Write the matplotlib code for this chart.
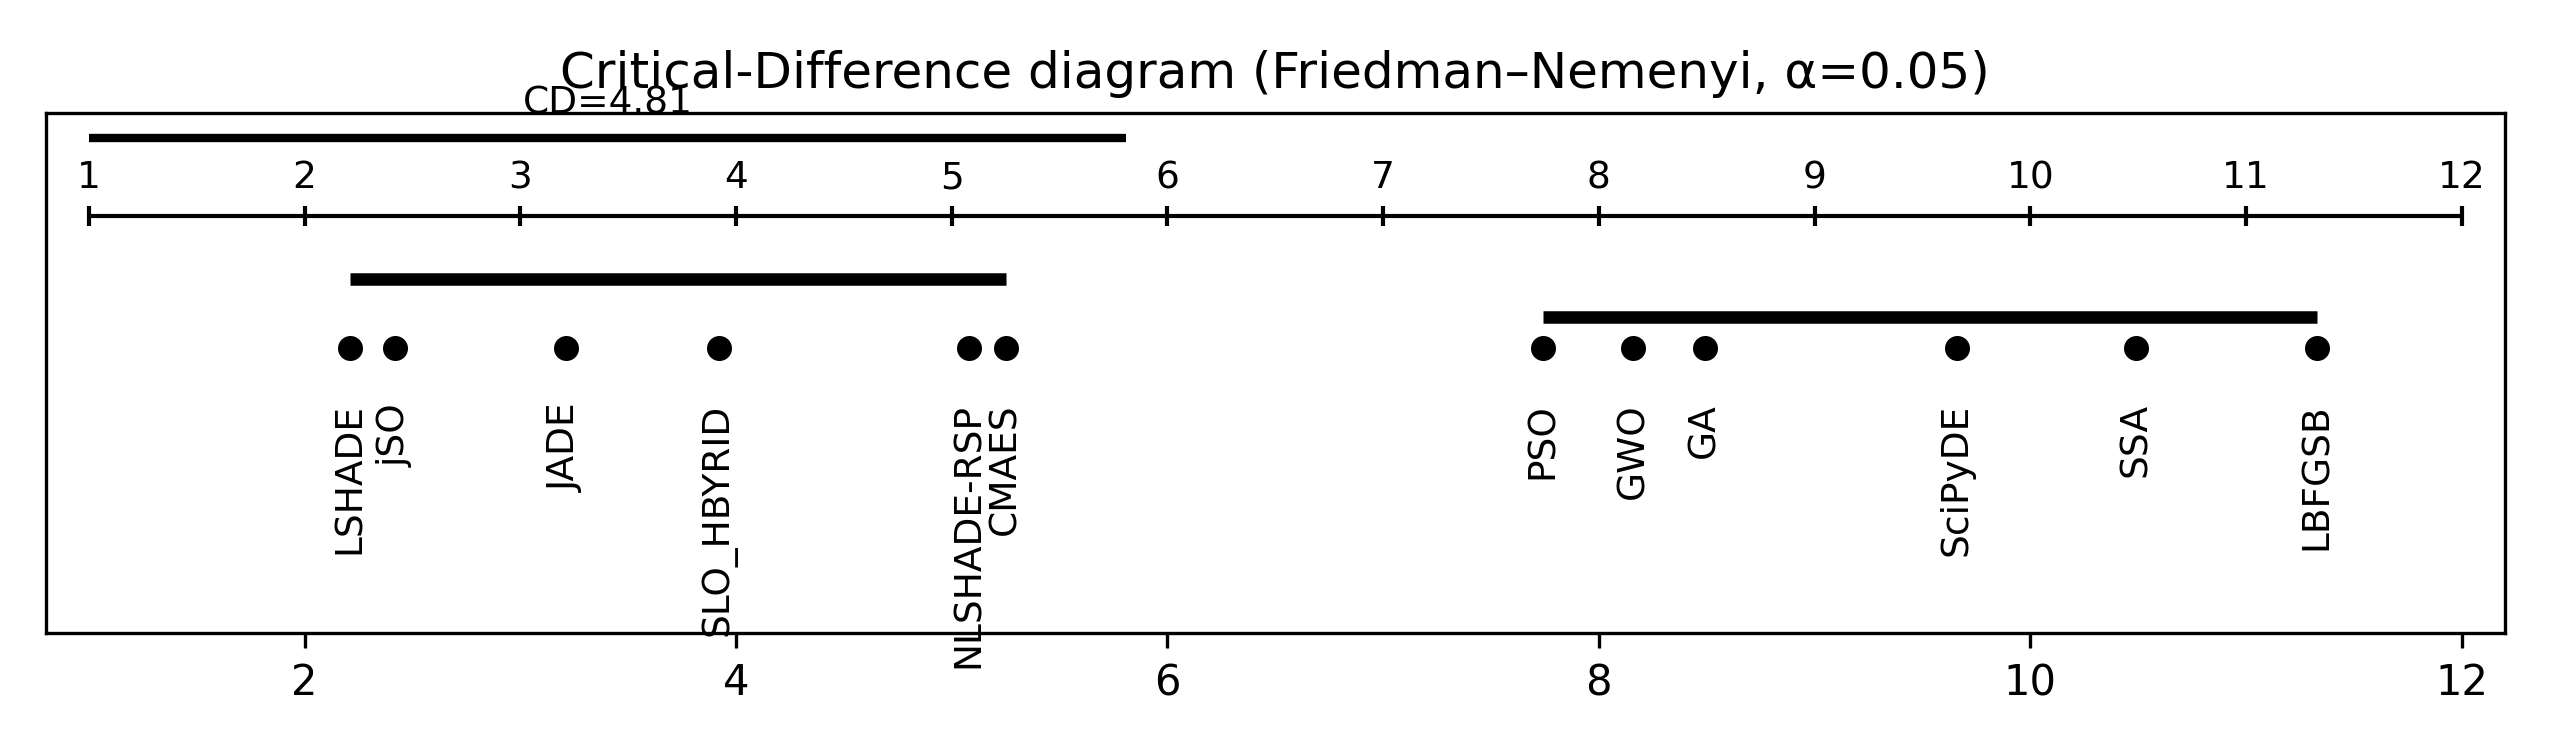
import numpy as np
import matplotlib.pyplot as plt

# average ranks
names = ["LSHADE", "jSO", "JADE", "SLO_HBYRID", "NLSHADE-RSP", "CMAES",
         "PSO", "GWO", "GA", "SciPyDE", "SSA", "LBFGSB"]
ranks = [2.21, 2.42, 3.21, 3.92, 5.08, 5.25,
         7.74, 8.16, 8.49, 9.66, 10.49, 11.33]
cd = 4.81
n_methods = 12

# groups that are not significantly different (index ranges into names)
cliques = [(0, 5), (6, 11)]

fig = plt.figure(figsize=(8.5, 2.5), dpi=300)
ax = fig.add_axes([0.0179, 0.156, 0.9644, 0.693])
ax.set_xlim(0.8, n_methods + 0.2)
ax.set_ylim(0, 1)
ax.set_yticks([])

# rank axis at the top
y_axis = 0.802
ax.plot([1, n_methods], [y_axis, y_axis], color="k", lw=1, solid_capstyle="butt")
for t in range(1, n_methods + 1):
    ax.plot([t, t], [y_axis - 0.019, y_axis + 0.019], color="k", lw=1, solid_capstyle="butt")
    ax.text(t, 0.856, str(t), ha="center", va="baseline", fontsize=9)

# CD bar
ax.plot([1, 1 + cd], [0.952, 0.952], color="k", lw=2, solid_capstyle="butt")
ax.text(1 + cd / 2, 1.0, "CD=%.2f" % cd, ha="center", va="baseline", fontsize=9)

# clique bars
clique_y = [0.681, 0.608]
for (a, b), yy in zip(cliques, clique_y):
    ax.plot([ranks[a], ranks[b]], [yy, yy], color="k", lw=3, solid_capstyle="butt")

# methods
ax.plot(ranks, [0.548] * len(ranks), "o", color="k", ms=5)
for name, r in zip(names, ranks):
    ax.text(r, 0.442, name, rotation=90, ha="center", va="top", fontsize=9)

ax.set_title("Critical-Difference diagram (Friedman\u2013Nemenyi, \u03b1=0.05)")

plt.savefig("out.png", dpi=300)
